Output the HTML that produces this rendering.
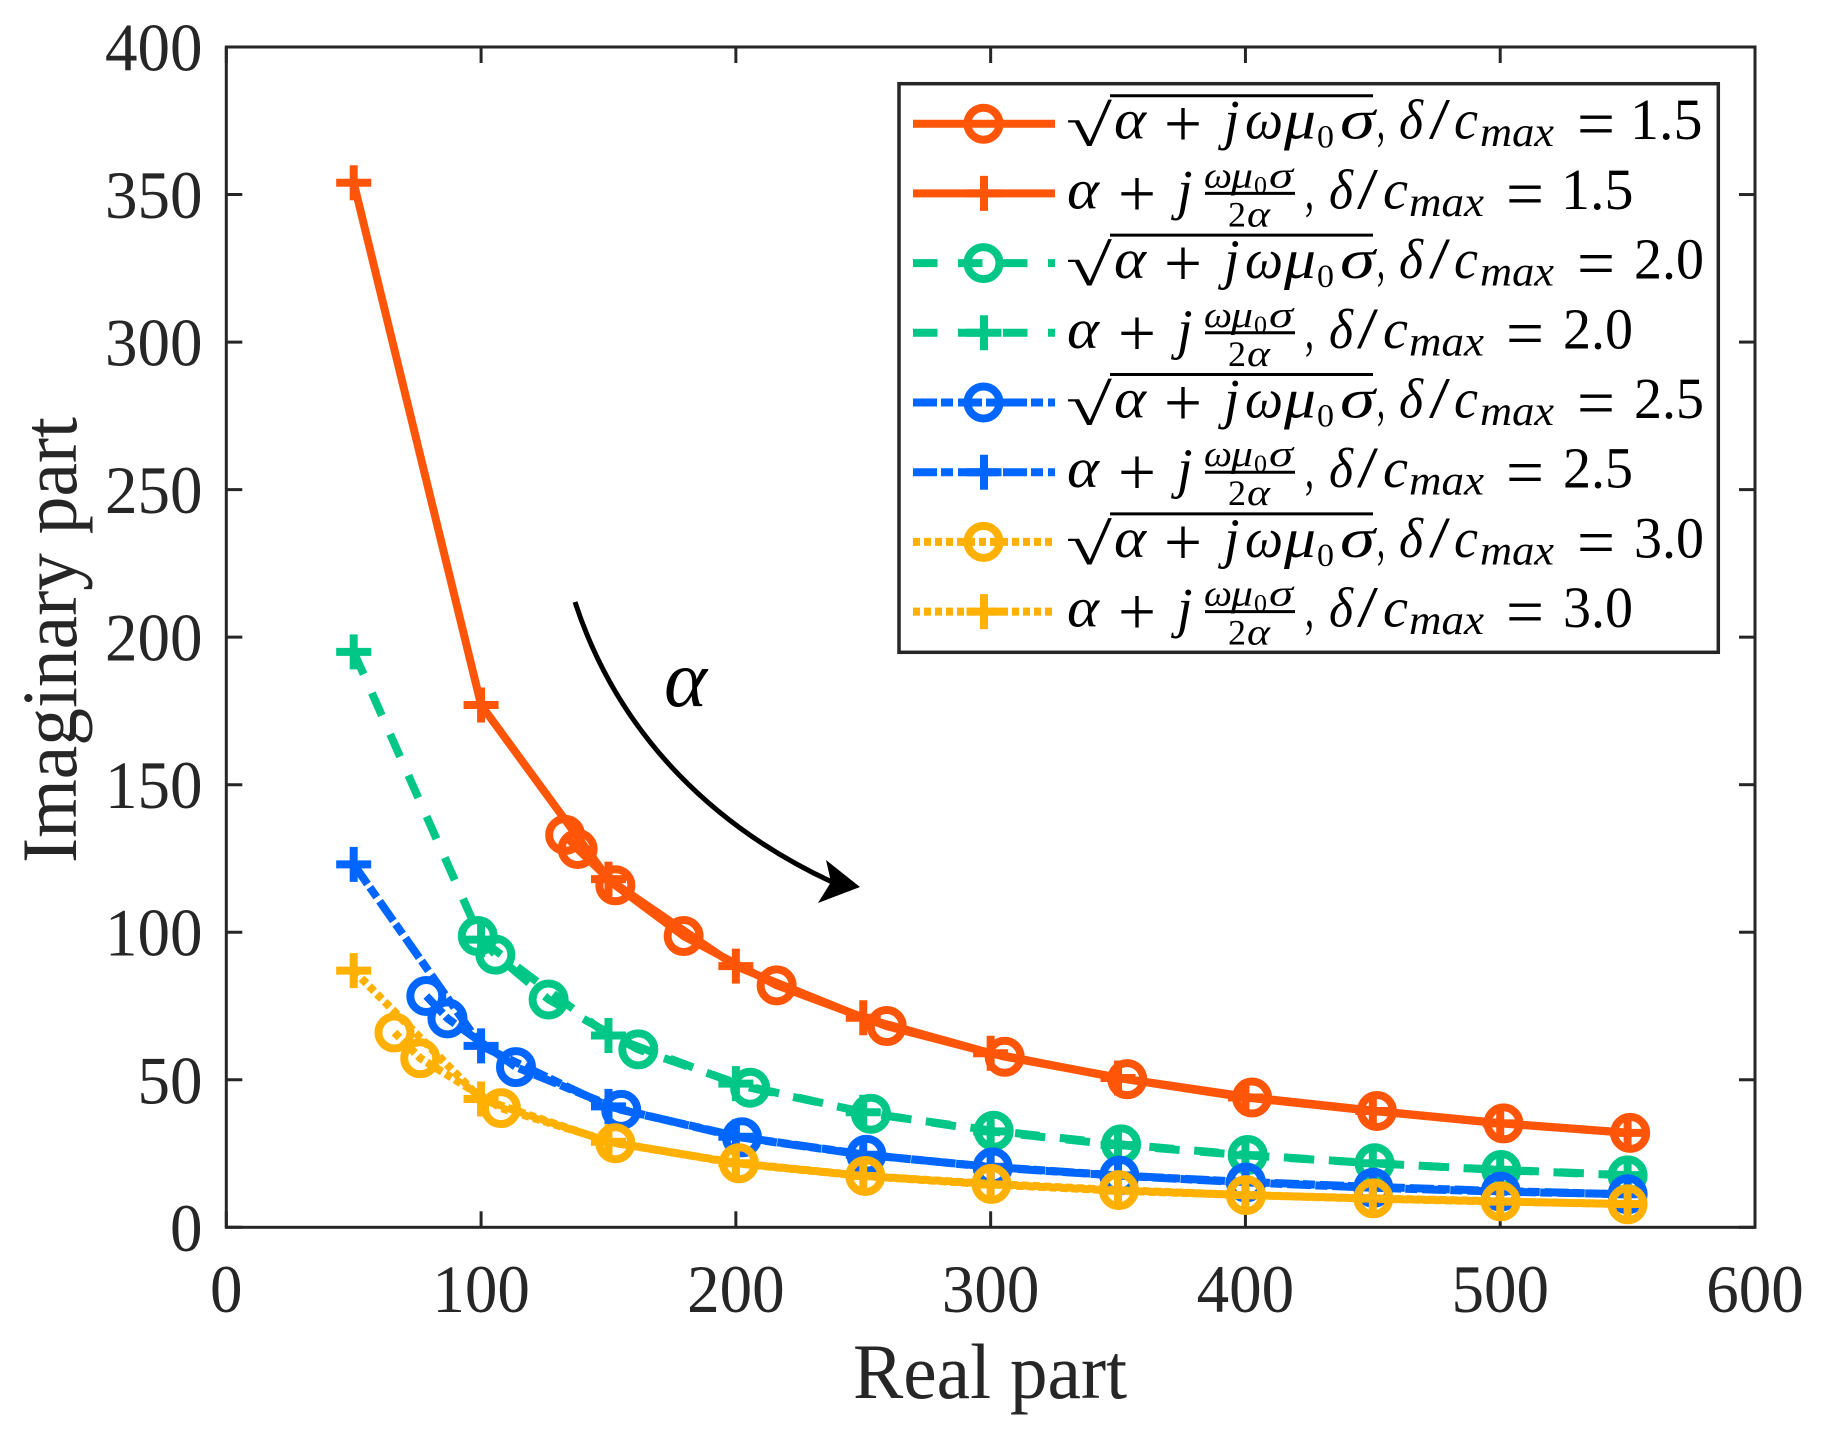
<!DOCTYPE html>
<html lang="en">
<head>
<meta charset="utf-8">
<title>Imaginary part vs real part</title>
<style>
html,body{margin:0;padding:0;background:#fff;}
svg{display:block;}
text{font-family:"Liberation Serif",serif;}
.tick{font-size:68px;fill:#262626;}
.ax{font-size:78px;fill:#262626;}
.m{font-size:56px;font-style:italic;fill:#000;}
.r{font-size:58px;fill:#000;}
.op{font-size:68px;fill:#000;}
.s{font-size:42px;font-style:italic;fill:#000;}
.z{font-size:33px;fill:#000;}
.f{font-size:37px;font-style:italic;fill:#000;}
.fz{font-size:25px;fill:#000;}
.fr{font-size:36px;fill:#000;}
</style>
</head>
<body>
<svg id="chart" xmlns="http://www.w3.org/2000/svg" width="1837" height="1433" viewBox="0 0 1837 1433">
  <rect x="0" y="0" width="1837" height="1433" fill="#fff"/>
  <g id="ticks"></g>
  <g id="series"></g>
  <rect x="226.3" y="47" width="1528.7" height="1180.3" fill="none" stroke="#262626" stroke-width="3"/>
  <g id="ticklabels"></g>
  <text class="ax" x="996" y="1398" text-anchor="middle" textLength="274" lengthAdjust="spacingAndGlyphs" dx="-6">Real part</text>
  <text class="ax" transform="translate(76,640) rotate(-90)" text-anchor="middle" textLength="446" lengthAdjust="spacingAndGlyphs">Imaginary part</text>

  <g>
    <path d="M575 602 C620 740 720 830 832 882" fill="none" stroke="#000" stroke-width="5"/>
    <polygon points="860,887 826,860 831,882 818,903" fill="#000"/>
    <text x="664" y="706" font-size="80" font-style="italic" textLength="43" lengthAdjust="spacingAndGlyphs">α</text>
  </g>

  <g id="legend">
    <rect x="899" y="83.7" width="819.3" height="568.6" fill="#fff" stroke="#262626" stroke-width="3.5"/>
    <g id="legend-handles"></g>

    <g transform="translate(0,123.7)">
      <text class="r" x="1066" y="22" font-size="70" textLength="46" lengthAdjust="spacingAndGlyphs">√</text>
      <line x1="1110" x2="1373" y1="-28" y2="-28" stroke="#000" stroke-width="3"/>
      <text class="m" x="1114" y="15" textLength="32" lengthAdjust="spacingAndGlyphs">α</text>
      <text class="op" x="1164" y="23" textLength="38" lengthAdjust="spacingAndGlyphs">+</text>
      <text class="m" x="1224" y="15">j</text>
      <text class="m" x="1245" y="15" textLength="38" lengthAdjust="spacingAndGlyphs">ω</text>
      <text class="m" x="1284" y="15" textLength="32" lengthAdjust="spacingAndGlyphs">μ</text>
      <text class="z" x="1317" y="24" textLength="17" lengthAdjust="spacingAndGlyphs">0</text>
      <text class="m" x="1340" y="15" textLength="35" lengthAdjust="spacingAndGlyphs">σ</text>
      <text class="r" x="1377" y="15" textLength="8" lengthAdjust="spacingAndGlyphs">,</text>
      <text class="m" x="1399" y="15" textLength="24" lengthAdjust="spacingAndGlyphs">δ</text>
      <text class="r" x="1429" y="15" textLength="21" lengthAdjust="spacingAndGlyphs">/</text>
      <text class="m" x="1454" y="15" textLength="24" lengthAdjust="spacingAndGlyphs">c</text>
      <text class="s" x="1480" y="22.5" textLength="74" lengthAdjust="spacingAndGlyphs">max</text>
      <text class="op" x="1577" y="23" textLength="38" lengthAdjust="spacingAndGlyphs">=</text>
      <text class="r" x="1630" y="15.5" textLength="72.5" lengthAdjust="spacingAndGlyphs">1.5</text>
    </g>
    <g transform="translate(0,193.4)">
      <text class="m" x="1067" y="15" textLength="32" lengthAdjust="spacingAndGlyphs">α</text>
      <text class="op" x="1118" y="23" textLength="38" lengthAdjust="spacingAndGlyphs">+</text>
      <text class="m" x="1177" y="15">j</text>
      <text class="f" x="1204" y="-6" textLength="28" lengthAdjust="spacingAndGlyphs">ω</text>
      <text class="f" x="1231" y="-6" textLength="22" lengthAdjust="spacingAndGlyphs">μ</text>
      <text class="fz" x="1254" y="0" textLength="13" lengthAdjust="spacingAndGlyphs">0</text>
      <text class="f" x="1269" y="-6" textLength="24" lengthAdjust="spacingAndGlyphs">σ</text>
      <line x1="1205" x2="1295" y1="0" y2="0" stroke="#000" stroke-width="3"/>
      <text class="fr" x="1228" y="33" textLength="18" lengthAdjust="spacingAndGlyphs">2</text>
      <text class="f" x="1247" y="33" textLength="23" lengthAdjust="spacingAndGlyphs">α</text>
      <text class="r" x="1305" y="15" textLength="9" lengthAdjust="spacingAndGlyphs">,</text>
      <text class="m" x="1329" y="15" textLength="24" lengthAdjust="spacingAndGlyphs">δ</text>
      <text class="r" x="1357" y="15" textLength="21" lengthAdjust="spacingAndGlyphs">/</text>
      <text class="m" x="1383" y="15" textLength="25" lengthAdjust="spacingAndGlyphs">c</text>
      <text class="s" x="1409" y="22.5" textLength="75" lengthAdjust="spacingAndGlyphs">max</text>
      <text class="op" x="1506" y="23" textLength="38" lengthAdjust="spacingAndGlyphs">=</text>
      <text class="r" x="1561" y="15.5" textLength="72.5" lengthAdjust="spacingAndGlyphs">1.5</text>
    </g>

    <g transform="translate(0,263.1)">
      <text class="r" x="1066" y="22" font-size="70" textLength="46" lengthAdjust="spacingAndGlyphs">√</text>
      <line x1="1110" x2="1373" y1="-28" y2="-28" stroke="#000" stroke-width="3"/>
      <text class="m" x="1114" y="15" textLength="32" lengthAdjust="spacingAndGlyphs">α</text>
      <text class="op" x="1164" y="23" textLength="38" lengthAdjust="spacingAndGlyphs">+</text>
      <text class="m" x="1224" y="15">j</text>
      <text class="m" x="1245" y="15" textLength="38" lengthAdjust="spacingAndGlyphs">ω</text>
      <text class="m" x="1284" y="15" textLength="32" lengthAdjust="spacingAndGlyphs">μ</text>
      <text class="z" x="1317" y="24" textLength="17" lengthAdjust="spacingAndGlyphs">0</text>
      <text class="m" x="1340" y="15" textLength="35" lengthAdjust="spacingAndGlyphs">σ</text>
      <text class="r" x="1377" y="15" textLength="8" lengthAdjust="spacingAndGlyphs">,</text>
      <text class="m" x="1399" y="15" textLength="24" lengthAdjust="spacingAndGlyphs">δ</text>
      <text class="r" x="1429" y="15" textLength="21" lengthAdjust="spacingAndGlyphs">/</text>
      <text class="m" x="1454" y="15" textLength="24" lengthAdjust="spacingAndGlyphs">c</text>
      <text class="s" x="1480" y="22.5" textLength="74" lengthAdjust="spacingAndGlyphs">max</text>
      <text class="op" x="1577" y="23" textLength="38" lengthAdjust="spacingAndGlyphs">=</text>
      <text class="r" x="1634" y="15.5" textLength="70" lengthAdjust="spacingAndGlyphs">2.0</text>
    </g>
    <g transform="translate(0,332.8)">
      <text class="m" x="1067" y="15" textLength="32" lengthAdjust="spacingAndGlyphs">α</text>
      <text class="op" x="1118" y="23" textLength="38" lengthAdjust="spacingAndGlyphs">+</text>
      <text class="m" x="1177" y="15">j</text>
      <text class="f" x="1204" y="-6" textLength="28" lengthAdjust="spacingAndGlyphs">ω</text>
      <text class="f" x="1231" y="-6" textLength="22" lengthAdjust="spacingAndGlyphs">μ</text>
      <text class="fz" x="1254" y="0" textLength="13" lengthAdjust="spacingAndGlyphs">0</text>
      <text class="f" x="1269" y="-6" textLength="24" lengthAdjust="spacingAndGlyphs">σ</text>
      <line x1="1205" x2="1295" y1="0" y2="0" stroke="#000" stroke-width="3"/>
      <text class="fr" x="1228" y="33" textLength="18" lengthAdjust="spacingAndGlyphs">2</text>
      <text class="f" x="1247" y="33" textLength="23" lengthAdjust="spacingAndGlyphs">α</text>
      <text class="r" x="1305" y="15" textLength="9" lengthAdjust="spacingAndGlyphs">,</text>
      <text class="m" x="1329" y="15" textLength="24" lengthAdjust="spacingAndGlyphs">δ</text>
      <text class="r" x="1357" y="15" textLength="21" lengthAdjust="spacingAndGlyphs">/</text>
      <text class="m" x="1383" y="15" textLength="25" lengthAdjust="spacingAndGlyphs">c</text>
      <text class="s" x="1409" y="22.5" textLength="75" lengthAdjust="spacingAndGlyphs">max</text>
      <text class="op" x="1506" y="23" textLength="38" lengthAdjust="spacingAndGlyphs">=</text>
      <text class="r" x="1563" y="15.5" textLength="70" lengthAdjust="spacingAndGlyphs">2.0</text>
    </g>

    <g transform="translate(0,402.5)">
      <text class="r" x="1066" y="22" font-size="70" textLength="46" lengthAdjust="spacingAndGlyphs">√</text>
      <line x1="1110" x2="1373" y1="-28" y2="-28" stroke="#000" stroke-width="3"/>
      <text class="m" x="1114" y="15" textLength="32" lengthAdjust="spacingAndGlyphs">α</text>
      <text class="op" x="1164" y="23" textLength="38" lengthAdjust="spacingAndGlyphs">+</text>
      <text class="m" x="1224" y="15">j</text>
      <text class="m" x="1245" y="15" textLength="38" lengthAdjust="spacingAndGlyphs">ω</text>
      <text class="m" x="1284" y="15" textLength="32" lengthAdjust="spacingAndGlyphs">μ</text>
      <text class="z" x="1317" y="24" textLength="17" lengthAdjust="spacingAndGlyphs">0</text>
      <text class="m" x="1340" y="15" textLength="35" lengthAdjust="spacingAndGlyphs">σ</text>
      <text class="r" x="1377" y="15" textLength="8" lengthAdjust="spacingAndGlyphs">,</text>
      <text class="m" x="1399" y="15" textLength="24" lengthAdjust="spacingAndGlyphs">δ</text>
      <text class="r" x="1429" y="15" textLength="21" lengthAdjust="spacingAndGlyphs">/</text>
      <text class="m" x="1454" y="15" textLength="24" lengthAdjust="spacingAndGlyphs">c</text>
      <text class="s" x="1480" y="22.5" textLength="74" lengthAdjust="spacingAndGlyphs">max</text>
      <text class="op" x="1577" y="23" textLength="38" lengthAdjust="spacingAndGlyphs">=</text>
      <text class="r" x="1634" y="15.5" textLength="70" lengthAdjust="spacingAndGlyphs">2.5</text>
    </g>
    <g transform="translate(0,472.2)">
      <text class="m" x="1067" y="15" textLength="32" lengthAdjust="spacingAndGlyphs">α</text>
      <text class="op" x="1118" y="23" textLength="38" lengthAdjust="spacingAndGlyphs">+</text>
      <text class="m" x="1177" y="15">j</text>
      <text class="f" x="1204" y="-6" textLength="28" lengthAdjust="spacingAndGlyphs">ω</text>
      <text class="f" x="1231" y="-6" textLength="22" lengthAdjust="spacingAndGlyphs">μ</text>
      <text class="fz" x="1254" y="0" textLength="13" lengthAdjust="spacingAndGlyphs">0</text>
      <text class="f" x="1269" y="-6" textLength="24" lengthAdjust="spacingAndGlyphs">σ</text>
      <line x1="1205" x2="1295" y1="0" y2="0" stroke="#000" stroke-width="3"/>
      <text class="fr" x="1228" y="33" textLength="18" lengthAdjust="spacingAndGlyphs">2</text>
      <text class="f" x="1247" y="33" textLength="23" lengthAdjust="spacingAndGlyphs">α</text>
      <text class="r" x="1305" y="15" textLength="9" lengthAdjust="spacingAndGlyphs">,</text>
      <text class="m" x="1329" y="15" textLength="24" lengthAdjust="spacingAndGlyphs">δ</text>
      <text class="r" x="1357" y="15" textLength="21" lengthAdjust="spacingAndGlyphs">/</text>
      <text class="m" x="1383" y="15" textLength="25" lengthAdjust="spacingAndGlyphs">c</text>
      <text class="s" x="1409" y="22.5" textLength="75" lengthAdjust="spacingAndGlyphs">max</text>
      <text class="op" x="1506" y="23" textLength="38" lengthAdjust="spacingAndGlyphs">=</text>
      <text class="r" x="1563" y="15.5" textLength="70" lengthAdjust="spacingAndGlyphs">2.5</text>
    </g>

    <g transform="translate(0,541.9)">
      <text class="r" x="1066" y="22" font-size="70" textLength="46" lengthAdjust="spacingAndGlyphs">√</text>
      <line x1="1110" x2="1373" y1="-28" y2="-28" stroke="#000" stroke-width="3"/>
      <text class="m" x="1114" y="15" textLength="32" lengthAdjust="spacingAndGlyphs">α</text>
      <text class="op" x="1164" y="23" textLength="38" lengthAdjust="spacingAndGlyphs">+</text>
      <text class="m" x="1224" y="15">j</text>
      <text class="m" x="1245" y="15" textLength="38" lengthAdjust="spacingAndGlyphs">ω</text>
      <text class="m" x="1284" y="15" textLength="32" lengthAdjust="spacingAndGlyphs">μ</text>
      <text class="z" x="1317" y="24" textLength="17" lengthAdjust="spacingAndGlyphs">0</text>
      <text class="m" x="1340" y="15" textLength="35" lengthAdjust="spacingAndGlyphs">σ</text>
      <text class="r" x="1377" y="15" textLength="8" lengthAdjust="spacingAndGlyphs">,</text>
      <text class="m" x="1399" y="15" textLength="24" lengthAdjust="spacingAndGlyphs">δ</text>
      <text class="r" x="1429" y="15" textLength="21" lengthAdjust="spacingAndGlyphs">/</text>
      <text class="m" x="1454" y="15" textLength="24" lengthAdjust="spacingAndGlyphs">c</text>
      <text class="s" x="1480" y="22.5" textLength="74" lengthAdjust="spacingAndGlyphs">max</text>
      <text class="op" x="1577" y="23" textLength="38" lengthAdjust="spacingAndGlyphs">=</text>
      <text class="r" x="1634" y="15.5" textLength="70" lengthAdjust="spacingAndGlyphs">3.0</text>
    </g>
    <g transform="translate(0,611.6)">
      <text class="m" x="1067" y="15" textLength="32" lengthAdjust="spacingAndGlyphs">α</text>
      <text class="op" x="1118" y="23" textLength="38" lengthAdjust="spacingAndGlyphs">+</text>
      <text class="m" x="1177" y="15">j</text>
      <text class="f" x="1204" y="-6" textLength="28" lengthAdjust="spacingAndGlyphs">ω</text>
      <text class="f" x="1231" y="-6" textLength="22" lengthAdjust="spacingAndGlyphs">μ</text>
      <text class="fz" x="1254" y="0" textLength="13" lengthAdjust="spacingAndGlyphs">0</text>
      <text class="f" x="1269" y="-6" textLength="24" lengthAdjust="spacingAndGlyphs">σ</text>
      <line x1="1205" x2="1295" y1="0" y2="0" stroke="#000" stroke-width="3"/>
      <text class="fr" x="1228" y="33" textLength="18" lengthAdjust="spacingAndGlyphs">2</text>
      <text class="f" x="1247" y="33" textLength="23" lengthAdjust="spacingAndGlyphs">α</text>
      <text class="r" x="1305" y="15" textLength="9" lengthAdjust="spacingAndGlyphs">,</text>
      <text class="m" x="1329" y="15" textLength="24" lengthAdjust="spacingAndGlyphs">δ</text>
      <text class="r" x="1357" y="15" textLength="21" lengthAdjust="spacingAndGlyphs">/</text>
      <text class="m" x="1383" y="15" textLength="25" lengthAdjust="spacingAndGlyphs">c</text>
      <text class="s" x="1409" y="22.5" textLength="75" lengthAdjust="spacingAndGlyphs">max</text>
      <text class="op" x="1506" y="23" textLength="38" lengthAdjust="spacingAndGlyphs">=</text>
      <text class="r" x="1563" y="15.5" textLength="70" lengthAdjust="spacingAndGlyphs">3.0</text>
    </g>
  </g>
</svg>
<script>
// ---- chart data ----
var xTicks = [0, 100, 200, 300, 400, 500, 600];
var yTicks = [0, 50, 100, 150, 200, 250, 300, 350, 400];

var plusReal = [50, 100, 150, 200, 250, 300, 350, 400, 450, 500, 550];
var plusImag15 = [354, 177, 118, 88.5, 71, 59, 50.6, 44, 39.4, 35.2, 32];
var plusImag20 = [195, 97.5, 65, 48.7, 39, 32.5, 27.9, 24.4, 21.7, 19.5, 17.7];
var plusImag25 = [123, 61.5, 41, 30.7, 24.6, 20.5, 17.6, 15.4, 13.7, 12.3, 11.2];
var plusImag30 = [87, 43.5, 29, 21.7, 17.4, 14.5, 12.4, 10.9, 9.7, 8.7, 7.9];

var circReal15 = [133, 137.9, 152.7, 179.5, 216, 259.2, 305.5, 353.6, 402.6, 451.6, 501.3, 551];
var circImag15 = [133, 128.2, 115.9, 98.7, 82, 68.2, 57.8, 50.2, 44, 39.4, 35.2, 32];
var circReal20 = [98.7, 105.6, 126.5, 161.7, 205.6, 253, 301.2, 351.2, 400.9, 450.7, 500.4, 550];
var circImag20 = [98.7, 92.4, 77.2, 60.3, 47.3, 38.5, 32.7, 28.1, 24.5, 21.7, 19.4, 17.6];
var circReal25 = [78.5, 86.8, 113.7, 155, 202.4, 251.2, 300.8, 350.5, 400.2, 450.2, 500.2, 550];
var circImag25 = [78.4, 70.8, 54.3, 39.8, 30.5, 24.6, 20.3, 17.5, 15.2, 13.4, 12.1, 11.2];
var circReal30 = [66, 76.1, 107.8, 152.7, 201.2, 250.8, 300.3, 350.3, 400.2, 450.2, 500.2, 550];
var circImag30 = [66, 57.3, 40.4, 28.5, 21.7, 17.4, 14.7, 12.6, 10.9, 9.8, 8.8, 7.8];

var ORANGE = '#FF5509', GREEN = '#00C785', BLUE = '#0066FF', YELLOW = '#FFB000';
var DASHED = '24.5 20.5', DASHDOT = '24 4 12 5', DOTTED = '7 4';

// ---- axis functions ----
function sx(v) { return 226.3 + v * (1755 - 226.3) / 600; }
function sy(v) { return 1227.3 - v * (1227.3 - 47) / 400; }

var NS = 'http://www.w3.org/2000/svg';
function mk(tag, parent) {
  var e = document.createElementNS(NS, tag);
  parent.appendChild(e);
  return e;
}

// ---- ticks ----
var tickG = document.getElementById('ticks');
var labelG = document.getElementById('ticklabels');
function tickLine(x1, y1, x2, y2) {
  var t = mk('line', tickG);
  
  
  t.setAttribute('x1', x1); t.setAttribute('y1', y1);
  t.setAttribute('x2', x2); t.setAttribute('y2', y2);
  t.setAttribute('stroke', '#262626');
  t.setAttribute('stroke-width', 3);
}
xTicks.forEach(function (v) {
  var x = sx(v);
  tickLine(x, 1227.3, x, 1227.3 - 16);
  tickLine(x, 47, x, 47 + 16);
  var t = mk('text', labelG);
  
  
  t.setAttribute('class', 'tick');
  t.setAttribute('x', x);
  t.setAttribute('y', 1312);
  t.setAttribute('text-anchor', 'middle');
  t.setAttribute('textLength', String(v).length * 32.5);
  t.setAttribute('lengthAdjust', 'spacingAndGlyphs');
  t.textContent = String(v);
});
yTicks.forEach(function (v) {
  var y = sy(v);
  tickLine(226.3, y, 226.3 + 16, y);
  tickLine(1755, y, 1755 - 16, y);
  var t = mk('text', labelG);
  
  
  t.setAttribute('class', 'tick');
  t.setAttribute('x', 202.5);
  t.setAttribute('y', y + 23.5);
  t.setAttribute('text-anchor', 'end');
  t.setAttribute('textLength', String(v).length * 32.5);
  t.setAttribute('lengthAdjust', 'spacingAndGlyphs');
  t.textContent = String(v);
});

// ---- series ----
function drawCircle(parent, cx, cy, color) {
  var c = mk('circle', parent);
  
  
  c.setAttribute('cx', cx); c.setAttribute('cy', cy); c.setAttribute('r', 16);
  c.setAttribute('fill', 'none'); c.setAttribute('stroke', color);
  c.setAttribute('stroke-width', 8);
}
function drawPlus(parent, cx, cy, color) {
  var p = mk('path', parent);
  
  
  p.setAttribute('d', 'M' + (cx - 17.5) + ' ' + cy + 'H' + (cx + 17.5) + 'M' + cx + ' ' + (cy - 17.5) + 'V' + (cy + 17.5));
  p.setAttribute('fill', 'none'); p.setAttribute('stroke', color);
  p.setAttribute('stroke-width', 8);
}
function drawSeries(xs, ys, color, dash, kind) {
  var g = mk('g', document.getElementById('series'));
  
  
  var pts = xs.map(function (x, i) { return sx(x).toFixed(1) + ',' + sy(ys[i]).toFixed(1); }).join(' ');
  var line = mk('polyline', g);
  
  
  line.setAttribute('points', pts);
  line.setAttribute('fill', 'none');
  line.setAttribute('stroke', color);
  line.setAttribute('stroke-width', 8);
  line.setAttribute('stroke-linejoin', 'round');
  if (dash) line.setAttribute('stroke-dasharray', dash);
  xs.forEach(function (x, i) {
    if (kind === 'circle') drawCircle(g, sx(x), sy(ys[i]), color);
    else drawPlus(g, sx(x), sy(ys[i]), color);
  });
}
drawSeries(circReal15, circImag15, ORANGE, null, 'circle');
drawSeries(plusReal, plusImag15, ORANGE, null, 'plus');
drawSeries(circReal20, circImag20, GREEN, DASHED, 'circle');
drawSeries(plusReal, plusImag20, GREEN, DASHED, 'plus');
drawSeries(circReal25, circImag25, BLUE, DASHDOT, 'circle');
drawSeries(plusReal, plusImag25, BLUE, DASHDOT, 'plus');
drawSeries(circReal30, circImag30, YELLOW, DOTTED, 'circle');
drawSeries(plusReal, plusImag30, YELLOW, DOTTED, 'plus');

// ---- legend handles ----
var handleG = document.getElementById('legend-handles');
var handleRows = [123.7, 193.4, 263.1, 332.8, 402.5, 472.2, 541.9, 611.6];
var handleColors = [ORANGE, ORANGE, GREEN, GREEN, BLUE, BLUE, YELLOW, YELLOW];
var handleDash = [null, null, DASHED, DASHED, DASHDOT, DASHDOT, DOTTED, DOTTED];
handleRows.forEach(function (y, i) {
  var l = mk('line', handleG);
  
  
  l.setAttribute('x1', 913); l.setAttribute('x2', 1055);
  l.setAttribute('y1', y); l.setAttribute('y2', y);
  l.setAttribute('stroke', handleColors[i]);
  l.setAttribute('stroke-width', 8);
  if (handleDash[i]) l.setAttribute('stroke-dasharray', handleDash[i]);
  if (i % 2 === 0) drawCircle(handleG, 983.5, y, handleColors[i]);
  else drawPlus(handleG, 984, y, handleColors[i]);
});
</script>
</body>
</html>
